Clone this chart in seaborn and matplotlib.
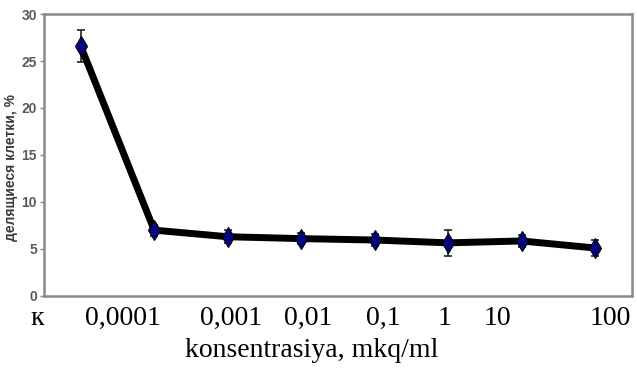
import numpy as np
import pandas as pd
import matplotlib
matplotlib.use("Agg")
import matplotlib.pyplot as plt
import seaborn as sns

# Concentration groups (control + dilution series) and measured share of dividing cells
categories = ["к", "0,0001", "0,001", "0,01", "0,1", "1", "10", "100"]
values = [26.6, 7.0, 6.3, 6.1, 5.95, 5.65, 5.85, 5.1]
errors = [1.7, 0.6, 0.7, 0.6, 0.6, 1.4, 0.6, 0.9]
# Horizontal placement of the category captions under the axis (axes fraction)
label_x = [-0.012, 0.135, 0.318, 0.449, 0.577, 0.682, 0.772, 0.963]

sns.set_theme(style="white")

fig = plt.figure(figsize=(6.37, 3.69), dpi=100)
ax = fig.add_axes([0.069, 0.198, 0.923, 0.764])

df = pd.DataFrame({"pos": np.arange(len(categories)), "val": values, "err": errors})

ax.errorbar(df["pos"], df["val"], yerr=df["err"], fmt="none", ecolor="#222222",
            elinewidth=1.2, capsize=3, capthick=1.2, zorder=2)
sns.lineplot(data=df, x="pos", y="val", ax=ax, color="black", linewidth=5,
             marker="d", markersize=10.5, markerfacecolor="#04047f",
             markeredgecolor="black", markeredgewidth=0.8, zorder=3)

ax.set_xlim(-0.5, len(categories) - 0.5)
ax.set_ylim(0, 30)
ax.set_yticks(range(0, 31, 5))
ax.set_xticks([])
ax.set_xlabel("")
ax.set_ylabel("делящиеся клетки, %", fontsize=10, fontweight="bold",
              color="#3a3a3a", family="Liberation Sans")
ax.yaxis.set_label_coords(-0.044, 0.454)

for lbl in ax.get_yticklabels():
    lbl.set_fontsize(10)
    lbl.set_fontweight("bold")
    lbl.set_color("#5a5a5a")
    lbl.set_family("Liberation Sans")
ax.tick_params(axis="y", which="major", direction="out", length=3, width=1,
               color="#888888", pad=2, left=True)

for side in ["left", "right", "top", "bottom"]:
    ax.spines[side].set_color("#8a8a8a")
    ax.spines[side].set_linewidth(1.8)

for x, t in zip(label_x, categories):
    ax.text(x, -0.08, t, transform=ax.transAxes, ha="center", va="center",
            fontsize=20, family="Liberation Serif", color="black")

fig.text(0.49, 0.05, "konsentrasiya, mkq/ml", ha="center", va="center",
         fontsize=20, family="Liberation Serif", color="black")

fig.savefig("out.png", dpi=100)
